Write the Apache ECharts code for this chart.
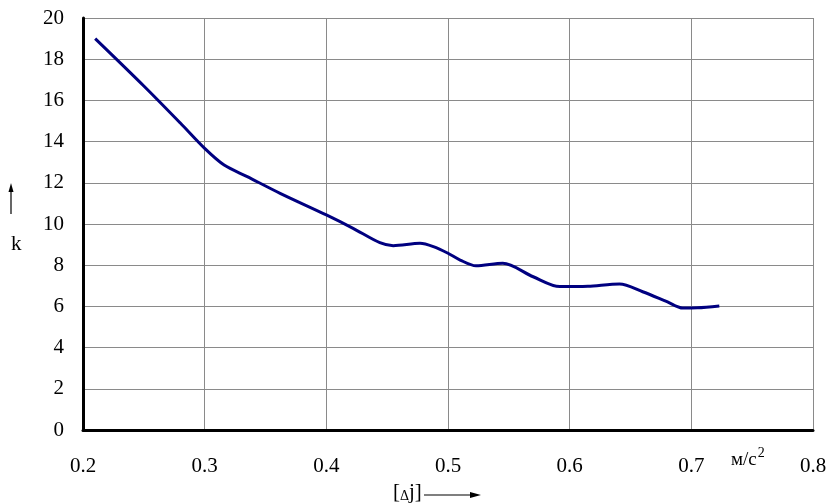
<!DOCTYPE html>
<html><head><meta charset="utf-8">
<script src="https://cdn.jsdelivr.net/npm/echarts@6/dist/echarts.min.js"></script>
<style>html,body{margin:0;padding:0;background:#fff}#c{width:831px;height:504px}</style>
</head><body><div id="c"></div>
<script>
const xValues = [0.21, 0.25, 0.28, 0.30, 0.316, 0.335, 0.362, 0.40, 0.422, 0.444, 0.455, 0.477, 0.488, 0.50, 0.51, 0.523, 0.545, 0.57, 0.592, 0.615, 0.641, 0.66, 0.68, 0.693, 0.705, 0.723];
const kValues = [19.0, 16.7, 14.9, 13.67, 12.86, 12.3, 11.49, 10.44, 9.79, 9.09, 8.95, 9.06, 8.9, 8.58, 8.25, 7.97, 8.09, 7.44, 6.96, 6.98, 7.09, 6.71, 6.23, 5.92, 5.93, 6.02];
const xTicks = ['0.2','0.3','0.4','0.5','0.6','0.7','0.8'];
const yTicks = ['0','2','4','6','8','10','12','14','16','18','20'];

const font = 'Liberation Serif, Times New Roman, serif';
const chart = echarts.init(document.getElementById('c'));
const data = xValues.map((x, i) => [x, kValues[i]]);
chart.setOption({
  animation: false,
  backgroundColor: '#fff',
  grid: { left: 83, right: 18, top: 18, bottom: 74 },
  xAxis: {
    type: 'value', min: 0.2, max: 0.8, interval: 0.1,
    axisLine: { show: true, lineStyle: { color: '#000', width: 3 } },
    axisTick: { show: false },
    axisLabel: { color: '#000', fontFamily: font, fontSize: 21, margin: 26,
      formatter: v => { const s = v.toFixed(1); return xTicks.includes(s) ? s : ''; } },
    splitLine: { show: true, lineStyle: { color: '#8a8a8a', width: 1 } }
  },
  yAxis: {
    type: 'value', min: 0, max: 20, interval: 2,
    axisLine: { show: true, lineStyle: { color: '#000', width: 3 } },
    axisTick: { show: false },
    axisLabel: { color: '#000', fontFamily: font, fontSize: 21, margin: 19,
      formatter: v => { const s = String(Math.round(v)); return yTicks.includes(s) ? s : ''; } },
    splitLine: { show: true, lineStyle: { color: '#8a8a8a', width: 1 } }
  },
  series: [{
    type: 'line', data: data, smooth: 0.3, showSymbol: false,
    lineStyle: { color: '#000080', width: 3 }
  }],
  graphic: [
    { type: 'text', left: 11, top: 234, style: { text: 'k', font: '21px ' + font, fill: '#000' } },
    { type: 'line', shape: { x1: 11, y1: 214, x2: 11, y2: 189 }, style: { stroke: '#000', lineWidth: 1.2 } },
    { type: 'polygon', shape: { points: [[11, 183], [8.5, 192], [13.5, 192]] }, style: { fill: '#000' } },
    { type: 'text', left: 393, top: 482, style: {
        text: '[{s|Δ}j]', font: '21px ' + font, fill: '#000',
        rich: { s: { fontSize: 14, fontFamily: font, padding: [8, 0, 0, 0], fill: '#000' } } } },
    { type: 'line', shape: { x1: 424, y1: 495, x2: 474, y2: 495 }, style: { stroke: '#000', lineWidth: 1.2 } },
    { type: 'polygon', shape: { points: [[481, 495], [470, 492], [470, 498]] }, style: { fill: '#000' } },
    { type: 'text', left: 731, top: 446, style: {
        text: 'м/с{sup|2}', font: '19px ' + font, fill: '#000',
        rich: { sup: { fontSize: 14, fontFamily: font, verticalAlign: 'top', padding: [0, 0, 14, 1], fill: '#000' } } } }
  ]
});
</script></body></html>
